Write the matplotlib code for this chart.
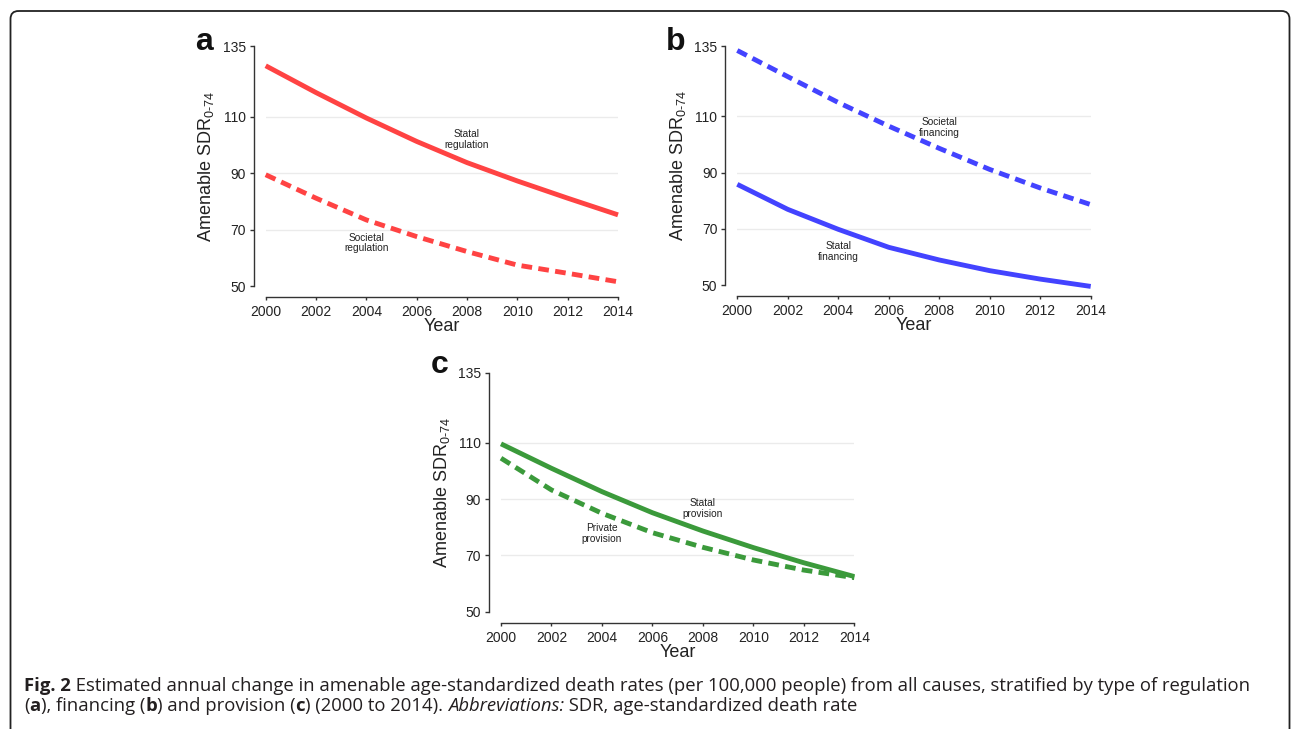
import matplotlib
matplotlib.use("Agg")
import matplotlib.pyplot as plt
from matplotlib.patches import FancyBboxPatch

# data
years = [2000, 2002, 2004, 2006, 2008, 2010, 2012, 2014]

statal_regulation = [128.0, 118.5, 109.5, 101.2, 93.7, 87.2, 81.1, 75.2]
societal_regulation = [89.4, 81.1, 73.4, 67.5, 62.2, 57.4, 54.5, 51.5]

societal_financing = [133.4, 124.1, 114.9, 106.5, 98.6, 91.1, 84.5, 78.6]
statal_financing = [85.8, 76.9, 69.8, 63.4, 58.9, 55.1, 52.1, 49.5]

statal_provision = [109.7, 101.0, 92.7, 85.2, 78.7, 72.8, 67.4, 62.5]
private_provision = [104.6, 93.3, 85.0, 78.1, 72.9, 68.4, 64.8, 62.1]

y_ticks = [50, 70, 90, 110, 135]
x_ticks = [2000, 2002, 2004, 2006, 2008, 2010, 2012, 2014]

RED = "#ff4343"
BLUE = "#4343ff"
GREEN = "#3b9a3b"
AXC = "#333333"

plt.rcParams["font.family"] = ["Liberation Sans", "DejaVu Sans"]
plt.rcParams["mathtext.fontset"] = "custom"
plt.rcParams["mathtext.rm"] = "Liberation Sans"

W, H = 1292, 729
PX = 72 / 100  # points per pixel at dpi 100
fig = plt.figure(figsize=(W / 100, H / 100), dpi=100)

# background axes in pixel coordinates for the rounded frame
ax_bg = fig.add_axes([0, 0, 1, 1], zorder=-10)
ax_bg.set_xlim(0, W)
ax_bg.set_ylim(H, 0)
ax_bg.axis("off")
frame = FancyBboxPatch((10.5, 11), 1279, 760, boxstyle="round,pad=0,rounding_size=8",
                       facecolor="none", edgecolor="#222222", linewidth=1.3, clip_on=False)
ax_bg.add_patch(frame)


def px_axes(x0, x1, y_top, y_bot):
    return fig.add_axes([x0 / W, 1 - y_bot / H, (x1 - x0) / W, (y_bot - y_top) / H])


def panel(ax, solid, dashed, color, solid_lab, dashed_lab, solid_pos, dashed_pos):
    for g in [70, 90, 110]:
        ax.axhline(g, color="#ebebeb", linewidth=1.0, zorder=0)
    ax.plot(years, solid, color=color, linewidth=3.5, solid_capstyle="butt", clip_on=False)
    ax.plot(years, dashed, color=color, linewidth=3.5, dashes=(2.2, 1.3),
            dash_capstyle="butt", clip_on=False)
    ax.set_xlim(2000, 2014)
    ax.set_ylim(50, 135)
    ax.set_xticks(x_ticks)
    ax.set_yticks(y_ticks)
    for s in ["top", "right"]:
        ax.spines[s].set_visible(False)
    ax.spines["left"].set_position(("outward", 12 * PX))
    ax.spines["bottom"].set_position(("outward", 11 * PX))
    for s in ["left", "bottom"]:
        ax.spines[s].set_color(AXC)
        ax.spines[s].set_linewidth(1.0)
    ax.tick_params(axis="y", length=4 * PX, width=1.0, color=AXC, pad=4 * PX, labelsize=10,
                   labelcolor="#222222")
    ax.tick_params(axis="x", length=3 * PX, width=1.0, color=AXC, pad=5 * PX, labelsize=10,
                   labelcolor="#222222")
    ax.set_ylabel(r"Amenable SDR$_{\text{0-74}}$", fontsize=13, color="#222222")
    ax.yaxis.set_label_coords(-0.14, 0.5)
    ax.set_xlabel("Year", fontsize=13, color="#222222")
    ax.xaxis.set_label_coords(0.5, -0.135)
    ax.text(solid_pos[0], solid_pos[1], solid_lab, fontsize=7.3, ha="center", va="center",
            linespacing=1.1, color="#222222")
    ax.text(dashed_pos[0], dashed_pos[1], dashed_lab, fontsize=7.3, ha="center", va="center",
            linespacing=1.1, color="#222222")
    ax.set_facecolor("none")


ax_a = px_axes(265.7, 618.0, 46, 286)
panel(ax_a, statal_regulation, societal_regulation, RED,
      "Statal\nregulation", "Societal\nregulation", (2008, 101.8), (2004, 65.2))

ax_b = px_axes(737.3, 1090.7, 46, 285)
panel(ax_b, statal_financing, societal_financing, BLUE,
      "Statal\nfinancing", "Societal\nfinancing", (2004, 62.0), (2008, 106.0))

ax_c = px_axes(501.0, 854.3, 372.7, 611.7)
panel(ax_c, statal_provision, private_provision, GREEN,
      "Statal\nprovision", "Private\nprovision", (2008, 86.8), (2004, 77.9))

# panel letters
for letter, x, y in [("a", 195, 50), ("b", 666, 49.5), ("c", 431, 372.7)]:
    fig.text(x / W, 1 - y / H, letter, fontsize=23, fontweight="bold", va="baseline", ha="left",
             color="#111111")

# caption, built piece by piece so bold / italic runs line up
cap_fs = 13.3
cap_col = "#231f20"


def caption_line(x, y, parts):
    prev = None
    for s, weight, style in parts:
        kw = dict(fontsize=cap_fs, family="Open Sans", fontweight=weight, fontstyle=style,
                  color=cap_col, va="bottom", ha="left")
        if prev is None:
            prev = ax_bg.text(x, y, s, **kw)
        else:
            prev = ax_bg.annotate(s, xy=(1, 0), xycoords=prev, **kw)


caption_line(24, 695, [
    ("Fig. 2", "bold", "normal"),
    (" Estimated annual change in amenable age-standardized death rates (per 100,000 people) "
     "from all causes, stratified by type of regulation", "normal", "normal"),
])
caption_line(24, 715, [
    ("(", "normal", "normal"),
    ("a", "bold", "normal"),
    ("), financing (", "normal", "normal"),
    ("b", "bold", "normal"),
    (") and provision (", "normal", "normal"),
    ("c", "bold", "normal"),
    (") (2000 to 2014). ", "normal", "normal"),
    ("Abbreviations:", "normal", "italic"),
    (" SDR, age-standardized death rate", "normal", "normal"),
])

fig.savefig("out.png", dpi=100, facecolor="white")
